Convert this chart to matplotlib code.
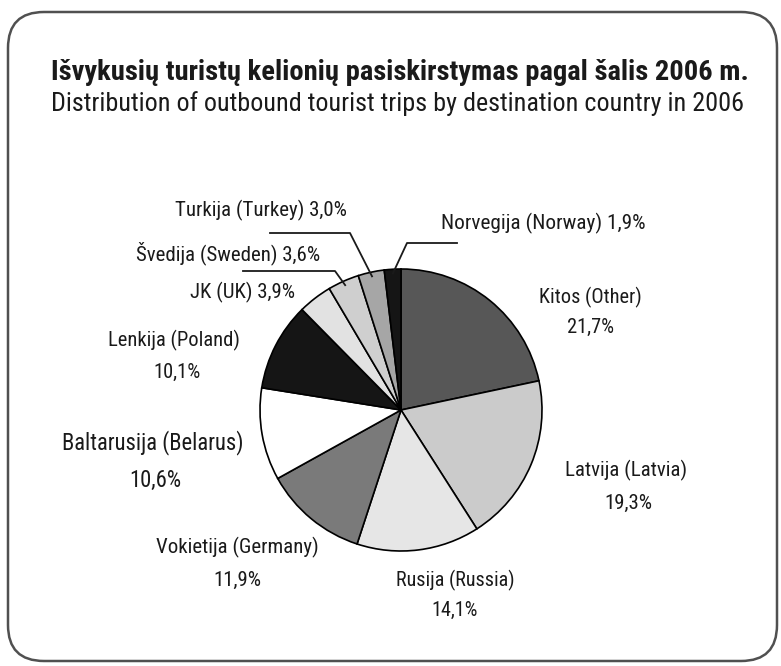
import matplotlib
matplotlib.use("Agg")
import matplotlib.pyplot as plt
import numpy as np
from matplotlib.patches import FancyBboxPatch

# Data
countries = ["Kitos (Other)", "Latvija (Latvia)", "Rusija (Russia)",
             "Vokietija (Germany)", "Baltarusija (Belarus)", "Lenkija (Poland)",
             "JK (UK)", "Švedija (Sweden)", "Turkija (Turkey)", "Norvegija (Norway)"]
shares = [21.7, 19.3, 14.1, 11.9, 10.6, 10.1, 3.9, 3.6, 3.0, 1.9]
slice_colors = ["#575757", "#cbcbcb", "#e6e6e6", "#7a7a7a", "#ffffff",
                "#151515", "#e2e2e2", "#cfcfcf", "#a6a6a6", "#151515"]

title = "Išvykusių turistų kelionių pasiskirstymas pagal šalis 2006 m."
subtitle = "Distribution of outbound tourist trips by destination country in 2006"

W, H = 781, 666
FONT = ["Roboto Condensed", "DejaVu Sans"]
INK = "#1a1a1a"


def py(y):
    # pixel row (from top) -> data y
    return H - y


def pct(v):
    return f"{v:.1f}".replace(".", ",") + "%"


fig = plt.figure(figsize=(W / 100, H / 100), dpi=100)
ax = fig.add_axes([0, 0, 1, 1])

# 1: Rounded frame
frame = FancyBboxPatch((8, py(661)), 769, 649,
                       boxstyle="round,pad=0,rounding_size=36",
                       facecolor="white", edgecolor="#505050", linewidth=1.8)
ax.add_patch(frame)

# 2: Pie
cx, cy, r = 401, py(410), 141
wedges, _ = ax.pie(shares, colors=slice_colors, startangle=90, counterclock=False,
                   center=(cx, cy), radius=r,
                   wedgeprops=dict(edgecolor="black", linewidth=1.2))

ax.set_xlim(0, W)
ax.set_ylim(0, H)
ax.set_aspect("equal")
ax.axis("off")

# 3: Titles
ax.text(51, py(73), title, fontsize=20.5, fontweight="bold", family=FONT,
        ha="left", va="center", color=INK)
ax.text(51, py(104), subtitle, fontsize=18.8, family=FONT,
        ha="left", va="center", color=INK)

# 4: Two-line labels for the big slices
two_line = {
    # index: (name x, name y, pct x, pct y, size)
    0: (590, 297, 590, 327, 14.7),
    1: (626, 470, 628, 503, 15),
    2: (455, 580, 455, 610, 14.5),
    3: (237, 547, 237, 580, 15),
    4: (153, 443, 155, 480, 16.3),
    5: (174, 340, 177, 372, 14.8),
}
for i, (nx, ny, qx, qy, fs) in two_line.items():
    ax.text(nx, py(ny), countries[i], fontsize=fs, family=FONT,
            ha="center", va="center", color=INK)
    ax.text(qx, py(qy), pct(shares[i]), fontsize=fs, family=FONT,
            ha="center", va="center", color=INK)

# 5: One-line labels for the small slices
ax.text(243, py(292), f"{countries[6]} {pct(shares[6])}", fontsize=15, family=FONT,
        ha="center", va="center", color=INK)

leaders = {
    # index: (label x, label y, size, line start x, line y, elbow x)
    7: (228, 253, 15, 243, 271, 335),
    8: (261, 210, 15, 270, 233, 350),
    9: (543, 223, 15.3, 457, 243, 407),
}
for i, (lx, ly, fs, sx, sy, ex) in leaders.items():
    ax.text(lx, py(ly), f"{countries[i]} {pct(shares[i])}", fontsize=fs,
            family=FONT, ha="center", va="center", color=INK)
    w = wedges[i]
    mid = np.deg2rad((w.theta1 + w.theta2) / 2)
    tx = cx + 0.97 * r * np.cos(mid)
    ty = cy + 0.97 * r * np.sin(mid)
    ax.plot([sx, ex, tx], [py(sy), py(sy), ty], color=INK, linewidth=1.3)

fig.savefig("out.png", dpi=100)
